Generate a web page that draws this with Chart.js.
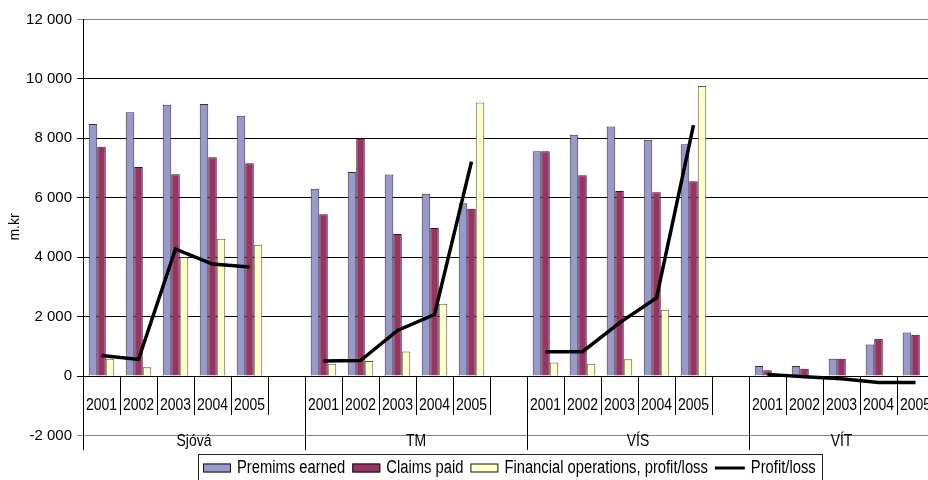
<!DOCTYPE html>
<html>
<head>
<meta charset="utf-8">
<script src="https://cdn.jsdelivr.net/npm/chart.js@4.4.1/dist/chart.umd.min.js"></script>
<style>
  html, body { margin: 0; padding: 0; background: #fff; overflow: hidden; }
  #wrap { width: 928px; height: 480px; overflow: hidden; position: relative; }
  canvas { display: block; }
</style>
</head>
<body>
<div id="wrap"><canvas id="c" width="940" height="480"></canvas></div>
<script>
// ---- data ----
const groups = ['Sjóvá', 'TM', 'VÍS', 'VÍT'];
const years = ['2001', '2002', '2003', '2004', '2005'];
const yTicks = [-2000, 0, 2000, 4000, 6000, 8000, 10000, 12000];
const seriesNames = ['Premims earned', 'Claims paid', 'Financial operations, profit/loss', 'Profit/loss'];
// values per group in order Sjóvá, TM, VÍS, VÍT (2001..2005 each)
const premiumsEarned = [8480, 8880, 9130, 9160, 8760, 6300, 6870, 6780, 6140, 5820, 7565, 8120, 8400, 7955, 7800, 336, 336, 584, 1064, 1467];
const claimsPaid     = [7720, 7040, 6790, 7360, 7160, 5450, 7990, 4780, 4980, 5630, 7565, 6760, 6230, 6190, 6560, 200, 250, 584, 1255, 1390];
const financialOps   = [585, 300, 3995, 4620, 4420, 415, 505, 830, 2430, 9210, 460, 415, 570, 2230, 9765, 10, 20, 20, 10, 0];
const profitLoss     = [695, 560, 4275, 3770, 3670, 505, 520, 1535, 2070, 7215, 820, 820, 1790, 2630, 8445, 57, -20, -88, -220, -220];

// ---- build category axis (a blank slot between groups) ----
const labels = [];
const groupOf = [];
groups.forEach((g, gi) => {
  years.forEach(y => { labels.push(y); groupOf.push(gi); });
  if (gi < groups.length - 1) { labels.push(''); groupOf.push(gi); }
});
function expand(arr) {
  const out = [];
  groups.forEach((g, gi) => {
    years.forEach((y, yi) => out.push(arr[gi * years.length + yi]));
    if (gi < groups.length - 1) out.push(null);
  });
  return out;
}

const FONT = '"Liberation Sans", Arial, sans-serif';
const SQ = 0.82; // horizontal squeeze to mimic the condensed text of the original
const colors = ['#9999CC', '#993366', '#FFFFCC'];
const borders = ['#333344', '#331122', '#555544'];

const fmt = v => {
  const s = Math.abs(v).toString().replace(/\B(?=(\d{3})+(?!\d))/g, ' ');
  return (v < 0 ? '-' : '') + s;
};

function narrowText(ctx, text, x, y, align) {
  ctx.save();
  ctx.scale(SQ, 1);
  ctx.textAlign = align || 'center';
  ctx.fillText(text, x / SQ, y);
  ctx.restore();
}

const decor = {
  id: 'decor',
  afterDraw(chart) {
    const ctx = chart.ctx;
    const x = chart.scales.x, y = chart.scales.y;
    const area = chart.chartArea;
    const n = labels.length;
    const w = (area.right - area.left) / n;
    const y0 = y.getPixelForValue(0);
    ctx.save();
    // category separators
    for (let i = 0; i <= n; i++) {
      const px = Math.round(area.left + i * w) + 0.5;
      const isGroup = (i === 0) || (i < n && groupOf[i] !== groupOf[i - 1]) || i === n;
      ctx.beginPath();
      ctx.strokeStyle = '#000';
      ctx.lineWidth = 1;
      ctx.moveTo(px, y0);
      ctx.lineTo(px, isGroup ? y0 + 74 : y0 + 39);
      ctx.stroke();
    }
    // year labels
    ctx.fillStyle = '#000';
    ctx.textBaseline = 'middle';
    ctx.font = '17px ' + FONT;
    labels.forEach((l, i) => {
      if (!l) return;
      narrowText(ctx, l, x.getPixelForValue(i), y0 + 29);
    });
    // group labels
    groups.forEach((g, gi) => {
      const idx = [];
      groupOf.forEach((v, i) => { if (v === gi) idx.push(i); });
      const l = area.left + idx[0] * w;
      const r = area.left + (idx[idx.length - 1] + 1) * w;
      narrowText(ctx, g, (l + r) / 2, y0 + 65);
    });
    // y title
    ctx.save();
    ctx.translate(15, 227);
    ctx.rotate(-Math.PI / 2);
    ctx.textAlign = 'center';
    ctx.font = '14px ' + FONT;
    ctx.fillText('m.kr', 0, 0);
    ctx.restore();
    // legend
    const bx = 198, by = 454, bw = 624, bh = 30;
    ctx.strokeStyle = '#222';
    ctx.lineWidth = 1;
    ctx.strokeRect(bx + 0.5, by + 0.5, bw, bh);
    ctx.font = '18px ' + FONT;
    let cx = 203;
    const cy = 468;
    seriesNames.forEach((name, i) => {
      if (i < 3) {
        ctx.fillStyle = colors[i];
        ctx.fillRect(cx, cy - 4.5, 28, 9);
        ctx.strokeStyle = '#111';
        ctx.lineWidth = 1;
        ctx.strokeRect(cx + 0.5, cy - 4.5 + 0.5, 27, 8);
      } else {
        ctx.strokeStyle = '#000';
        ctx.lineWidth = 3;
        ctx.beginPath();
        ctx.moveTo(cx, cy);
        ctx.lineTo(cx + 30, cy);
        ctx.stroke();
        ctx.lineWidth = 1;
      }
      cx += (i < 3 ? 28 : 30) + 6;
      ctx.fillStyle = '#000';
      narrowText(ctx, name, cx, cy, 'left');
      cx += ctx.measureText(name).width * SQ + 7;
    });
    ctx.restore();
  }
};

const barDs = (label, arr, i) => ({
  type: 'bar',
  label,
  data: expand(arr),
  backgroundColor: colors[i],
  borderColor: borders[i],
  borderWidth: 1,
  categoryPercentage: 0.69,
  barPercentage: 1.0,
  order: 1
});

new Chart(document.getElementById('c'), {
  type: 'bar',
  data: {
    labels,
    datasets: [
      barDs(seriesNames[0], premiumsEarned, 0),
      barDs(seriesNames[1], claimsPaid, 1),
      barDs(seriesNames[2], financialOps, 2),
      {
        type: 'line',
        label: seriesNames[3],
        data: expand(profitLoss),
        borderColor: '#000',
        backgroundColor: '#000',
        borderWidth: 3.5,
        pointRadius: 0,
        tension: 0,
        spanGaps: false,
        order: 0
      }
    ]
  },
  options: {
    responsive: false,
    animation: false,
    devicePixelRatio: 1,
    layout: { padding: { left: 0, right: 6, top: 19.5, bottom: 44.5 } },
    plugins: { legend: { display: false }, tooltip: { enabled: false } },
    scales: {
      x: { display: false, offset: true },
      y: {
        min: -2000, max: 12000,
        afterBuildTicks(scale) { scale.ticks = yTicks.map(v => ({ value: v })); },
        afterFit(scale) { scale.width = 83; },
        ticks: {
          color: '#000',
          padding: 5,
          font: { family: FONT, size: 15 },
          callback: v => fmt(v)
        },
        grid: {
          color: c => (c.tick && (c.tick.value === 12000 || c.tick.value === -2000)) ? '#888' : '#000',
          lineWidth: 1,
          tickLength: 6
        },
        border: { display: true, color: '#000', width: 1 }
      }
    }
  },
  plugins: [decor]
});
</script>
</body>
</html>
